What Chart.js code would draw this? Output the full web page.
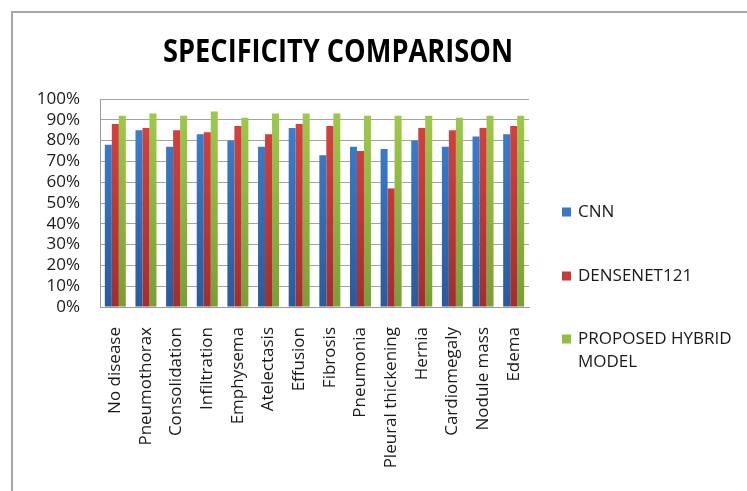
<!DOCTYPE html>
<html>
<head>
<meta charset="utf-8">
<script src="https://cdn.jsdelivr.net/npm/chart.js@4.4.1/dist/chart.umd.min.js"></script>
<style>
  html, body { margin: 0; padding: 0; background: #ffffff; }
  canvas { display: block; }
</style>
</head>
<body>
<canvas id="chart" width="747" height="491"></canvas>
<script>
// Specificity per finding for the three models (percent)
const categories = [
  'No disease', 'Pneumothorax', 'Consolidation', 'Infiltration', 'Emphysema',
  'Atelectasis', 'Effusion', 'Fibrosis', 'Pneumonia', 'Pleural thickening',
  'Hernia', 'Cardiomegaly', 'Nodule mass', 'Edema'
];
const cnnValues      = [78, 85, 77, 83, 80, 77, 86, 73, 77, 76, 80, 77, 82, 83];
const densenetValues = [88, 86, 85, 84, 87, 83, 88, 87, 75, 57, 86, 85, 86, 87];
const hybridValues   = [92, 93, 92, 94, 91, 93, 93, 93, 92, 92, 92, 91, 92, 92];
const seriesNames = ['CNN', 'DENSENET121', 'PROPOSED HYBRID MODEL'];
const yTickValues = [0, 10, 20, 30, 40, 50, 60, 70, 80, 90, 100];
const chartTitle = 'SPECIFICITY COMPARISON';

const seriesColors = [
  { top: '#3f83d4', bottom: '#2a5a9c', swatch: '#3a77c4' },
  { top: '#dc4340', bottom: '#a32e2d', swatch: '#c9393a' },
  { top: '#a0cc4c', bottom: '#789f36', swatch: '#8fbf45' }
];

const labelFont = "'Open Sans', 'Liberation Sans', sans-serif";

function barFill(idx) {
  return (ctx) => {
    const area = ctx.chart.chartArea;
    if (!area) return seriesColors[idx].swatch;
    const g = ctx.chart.ctx.createLinearGradient(0, area.top, 0, area.bottom);
    g.addColorStop(0, seriesColors[idx].top);
    g.addColorStop(1, seriesColors[idx].bottom);
    return g;
  };
}

// Frame, heading and side legend
const decorations = {
  id: 'decorations',
  beforeDraw(chart) {
    const c = chart.ctx;
    c.save();
    c.strokeStyle = '#a6a6a6';
    c.lineWidth = 2;
    c.beginPath();
    c.moveTo(12, chart.height);
    c.lineTo(12, 12);
    c.lineTo(chart.width, 12);
    c.stroke();
    c.restore();
  },
  afterDraw(chart) {
    const c = chart.ctx;
    c.save();
    // heading, condensed to a 350px run
    c.fillStyle = '#000000';
    c.font = "bold 33px 'Open Sans', sans-serif";
    c.textAlign = 'center';
    c.textBaseline = 'alphabetic';
    const w = c.measureText(chartTitle).width;
    const sx = Math.min(1, 350 / w);
    c.translate(338, 62);
    c.scale(sx, 1);
    c.fillText(chartTitle, 0, 0);
    c.restore();

    c.save();
    c.font = '17px ' + labelFont;
    c.textAlign = 'left';
    c.textBaseline = 'middle';
    const centers = [212, 276, 339];
    const maxW = 170;
    seriesNames.forEach((name, i) => {
      const y = centers[i];
      c.fillStyle = seriesColors[i].swatch;
      c.fillRect(562, y - 4.5, 9, 9);
      c.fillStyle = '#1a1a1a';
      const words = name.split(' ');
      const lines = [];
      let line = '';
      words.forEach(wd => {
        const test = line ? line + ' ' + wd : wd;
        if (c.measureText(test).width > maxW && line) {
          lines.push(line);
          line = wd;
        } else {
          line = test;
        }
      });
      lines.push(line);
      lines.forEach((l, k) => c.fillText(l, 578, y + k * 23));
    });
    c.restore();
  }
};

Chart.defaults.font.family = labelFont;
Chart.defaults.font.size = 17;
Chart.defaults.color = '#1a1a1a';

new Chart(document.getElementById('chart'), {
  type: 'bar',
  data: {
    labels: categories,
    datasets: [
      { label: seriesNames[0], data: cnnValues, backgroundColor: barFill(0) },
      { label: seriesNames[1], data: densenetValues, backgroundColor: barFill(1) },
      { label: seriesNames[2], data: hybridValues, backgroundColor: barFill(2) }
    ]
  },
  options: {
    responsive: false,
    animation: false,
    devicePixelRatio: 1,
    layout: { padding: { top: 99, right: 218, bottom: 0, left: 0 } },
    datasets: {
      bar: { categoryPercentage: 0.685, barPercentage: 1.0, borderWidth: 0 }
    },
    plugins: {
      legend: { display: false },
      title: { display: false },
      tooltip: { enabled: false }
    },
    scales: {
      x: {
        grid: { display: false, drawTicks: false },
        border: { display: true, color: '#9a9a9a', width: 1 },
        ticks: {
          minRotation: 90, maxRotation: 90, autoSkip: false,
          padding: 20, color: '#1a1a1a', font: { size: 17 }
        },
        afterFit(scale) { scale.height = 184; }
      },
      y: {
        min: 0, max: 100,
        afterBuildTicks(scale) { scale.ticks = yTickValues.map(v => ({ value: v })); },
        grid: { color: '#a3a3a3', lineWidth: 1, drawTicks: false },
        border: { display: true, color: '#9a9a9a', width: 1 },
        ticks: {
          autoSkip: false, padding: 20, color: '#1a1a1a', font: { size: 17 },
          callback: (v) => v + '%'
        },
        afterFit(scale) { scale.width = 100; }
      }
    }
  },
  plugins: [decorations]
});
</script>
</body>
</html>
